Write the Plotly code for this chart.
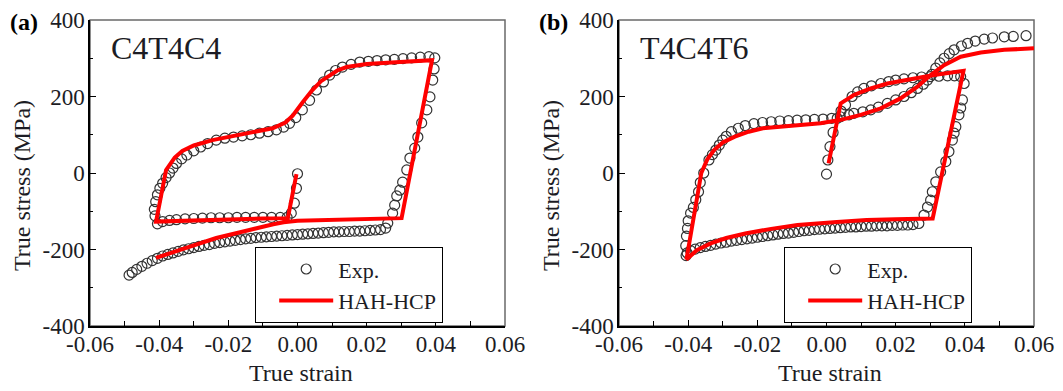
import plotly.graph_objects as go

# ---------------- data (strain, stress in MPa) ----------------
# Panel (a)  C4T4C4
A_EXP = [
    (0.0000, -2), (-0.0003, -40), (-0.0009, -79), (-0.0018, -105), (-0.0030, -116),
    (-0.0050, -116), (-0.0075, -116), (-0.0100, -116), (-0.0125, -116), (-0.0150, -116),
    (-0.0175, -116), (-0.0200, -117), (-0.0225, -117), (-0.0250, -117), (-0.0275, -118),
    (-0.0300, -119), (-0.0325, -120), (-0.0350, -122), (-0.0370, -124), (-0.0390, -127),
    (-0.0405, -133),
    (-0.0412, -112), (-0.0414, -95), (-0.0410, -75), (-0.0405, -57), (-0.0398, -40),
    (-0.0390, -27), (-0.0380, -12), (-0.0370, 0), (-0.0360, 13), (-0.0350, 25),
    (-0.0335, 37), (-0.0320, 47), (-0.0300, 58), (-0.0280, 68), (-0.0260, 77),
    (-0.0235, 86), (-0.0210, 91), (-0.0185, 94), (-0.0160, 97), (-0.0135, 100),
    (-0.0110, 104), (-0.0085, 108), (-0.0061, 113), (-0.0040, 120), (-0.0023, 130),
    (-0.0005, 145), (0.0014, 165), (0.0035, 190), (0.0055, 217), (0.0075, 238),
    (0.0093, 256), (0.0110, 268), (0.0130, 277), (0.0155, 284), (0.0180, 290),
    (0.0205, 292), (0.0230, 294), (0.0255, 296), (0.0280, 297), (0.0305, 299),
    (0.0330, 301), (0.0355, 303), (0.0380, 304), (0.0397, 301),
    (0.0395, 272), (0.0391, 243), (0.0383, 199), (0.0374, 165), (0.0359, 131),
    (0.0348, 94), (0.0339, 65), (0.0325, 39), (0.0316, 8), (0.0304, -24),
    (0.0296, -45), (0.0287, -60), (0.0281, -84), (0.0275, -105), (0.0261, -131),
    (0.0255, -144),
    (0.0240, -148), (0.0225, -149), (0.0210, -150), (0.0195, -151), (0.0180, -152),
    (0.0165, -152), (0.0150, -153), (0.0135, -153), (0.0120, -154), (0.0105, -154),
    (0.0090, -155), (0.0075, -156), (0.0060, -157), (0.0045, -158), (0.0030, -159),
    (0.0015, -160), (0.0000, -161), (-0.0015, -162), (-0.0030, -163), (-0.0045, -164),
    (-0.0060, -165), (-0.0075, -166), (-0.0090, -167), (-0.0105, -168), (-0.0120, -169),
    (-0.0135, -171), (-0.0150, -172), (-0.0165, -174), (-0.0180, -176), (-0.0195, -178),
    (-0.0210, -180), (-0.0225, -182), (-0.0240, -184), (-0.0255, -187), (-0.0270, -189),
    (-0.0285, -192), (-0.0300, -195), (-0.0315, -198), (-0.0330, -201), (-0.0345, -205),
    (-0.0360, -209), (-0.0375, -213), (-0.0390, -217), (-0.0405, -223), (-0.0420, -229),
    (-0.0435, -236), (-0.0450, -244), (-0.0465, -252), (-0.0478, -260), (-0.0487, -267),
]

A_MODEL = [
    (-0.0003, -3), (-0.0028, -118), (-0.0100, -119), (-0.0200, -121), (-0.0300, -123),
    (-0.0409, -127), (-0.0380, 8), (-0.0355, 40), (-0.0333, 58), (-0.0300, 72),
    (-0.0246, 86), (-0.0200, 94), (-0.0139, 104), (-0.0072, 117), (-0.0035, 132),
    (-0.0014, 150), (0.0015, 185), (0.0043, 217), (0.0068, 240), (0.0093, 256),
    (0.0115, 268), (0.0142, 277), (0.0200, 285), (0.0296, 290), (0.0389, 295),
    (0.0301, -118), (0.0200, -120), (0.0100, -122), (0.0000, -125), (-0.0040, -129),
    (-0.0070, -134), (-0.0139, -149), (-0.0235, -170), (-0.0333, -199), (-0.0409, -222),
]

# Panel (b)  T4C4T6
B_EXP = [
    (0.0000, -3), (0.0004, 34), (0.0010, 69), (0.0019, 106), (0.0031, 143),
    (0.0042, 162), (0.0055, 178), (0.0074, 200), (0.0090, 212), (0.0108, 221),
    (0.0130, 228), (0.0157, 234), (0.0180, 239), (0.0200, 243), (0.0224, 246),
    (0.0250, 249), (0.0275, 251), (0.0300, 252), (0.0325, 253), (0.0350, 254),
    (0.0370, 254), (0.0388, 252),
    (0.0398, 234), (0.0393, 191), (0.0388, 170), (0.0383, 152), (0.0374, 121),
    (0.0369, 104), (0.0364, 86), (0.0354, 56), (0.0345, 30), (0.0330, 3),
    (0.0316, -23), (0.0306, -49), (0.0301, -71), (0.0292, -89), (0.0282, -110),
    (0.0267, -132),
    (0.0250, -135), (0.0235, -136), (0.0220, -136), (0.0205, -137), (0.0190, -137),
    (0.0175, -138), (0.0160, -138), (0.0145, -138), (0.0130, -139), (0.0115, -139),
    (0.0100, -140), (0.0085, -141), (0.0070, -141), (0.0055, -142), (0.0040, -143),
    (0.0025, -144), (0.0010, -145), (-0.0005, -146), (-0.0020, -147), (-0.0035, -148),
    (-0.0050, -150), (-0.0065, -151), (-0.0080, -153), (-0.0095, -155), (-0.0110, -157),
    (-0.0125, -158), (-0.0140, -160), (-0.0155, -162), (-0.0170, -164), (-0.0185, -166),
    (-0.0200, -168), (-0.0215, -170), (-0.0230, -172), (-0.0245, -174), (-0.0260, -176),
    (-0.0275, -178), (-0.0290, -181), (-0.0305, -183), (-0.0320, -186), (-0.0335, -189),
    (-0.0350, -192), (-0.0365, -195), (-0.0380, -199), (-0.0393, -203), (-0.0403, -209),
    (-0.0406, -216),
    (-0.0407, -190), (-0.0405, -165), (-0.0402, -145), (-0.0400, -125), (-0.0393, -105),
    (-0.0385, -90), (-0.0378, -70), (-0.0370, -49), (-0.0365, -25), (-0.0355, 0),
    (-0.0340, 34), (-0.0330, 48), (-0.0320, 60), (-0.0310, 73), (-0.0300, 86),
    (-0.0290, 96), (-0.0275, 108), (-0.0255, 117), (-0.0235, 124), (-0.0210, 129),
    (-0.0185, 132), (-0.0160, 134), (-0.0135, 136), (-0.0110, 137), (-0.0085, 138),
    (-0.0060, 139), (-0.0035, 140), (-0.0010, 141), (0.0015, 143), (0.0040, 147),
    (0.0065, 152), (0.0079, 156), (0.0105, 160), (0.0128, 165), (0.0150, 172),
    (0.0176, 182), (0.0200, 191), (0.0224, 200), (0.0245, 210), (0.0263, 221),
    (0.0280, 232), (0.0292, 243), (0.0305, 258), (0.0316, 274), (0.0328, 288),
    (0.0340, 300), (0.0355, 312), (0.0369, 322), (0.0390, 332), (0.0408, 339),
    (0.0430, 345), (0.0456, 350), (0.0480, 353), (0.0514, 356), (0.0540, 357),
    (0.0577, 359),
]

B_MODEL = [
    (0.0006, 25), (0.0041, 182), (0.0079, 204), (0.0128, 221), (0.0176, 234),
    (0.0243, 246), (0.0311, 256), (0.0396, 267), (0.0307, -119), (0.0200, -121),
    (0.0116, -123), (0.0030, -128), (-0.0084, -136), (-0.0160, -146), (-0.0235, -158),
    (-0.0290, -170), (-0.0335, -184), (-0.0375, -202), (-0.0405, -226), (-0.0362, 0),
    (-0.0345, 35), (-0.0325, 60), (-0.0300, 80), (-0.0265, 95), (-0.0225, 108),
    (-0.0184, 117), (-0.0134, 122), (-0.0084, 125), (-0.0017, 130), (0.0041, 139),
    (0.0099, 152), (0.0157, 169), (0.0214, 195), (0.0263, 226), (0.0301, 256),
    (0.0340, 282), (0.0388, 304), (0.0446, 315), (0.0514, 322), (0.0600, 326),
]

X_TICK_VALS = [-0.06, -0.04, -0.02, 0.0, 0.02, 0.04, 0.06]
X_TICK_TEXT = ["-0.06", "-0.04", "-0.02", "0.00", "0.02", "0.04", "0.06"]
X_MINOR_VALS = [-0.05, -0.03, -0.01, 0.01, 0.03, 0.05]
Y_TICK_VALS = [-400, -200, 0, 200, 400]
Y_TICK_TEXT = ["-400", "-200", "0", "200", "400"]
Y_MINOR_VALS = [-300, -100, 100, 300]

PANEL_LABELS = ["(a)", "(b)"]
PANEL_TITLES = ["C4T4C4", "T4C4T6"]
SERIES_NAMES = ["Exp.", "HAH-HCP"]
X_TITLE = "True strain"
Y_TITLE = "True stress (MPa)"

# ---------------- layout helpers ----------------
PAGE_OFFSET = 8  # default body margin of the html page
W, H = 1063 - PAGE_OFFSET, 391 - PAGE_OFFSET
FONT = "Liberation Serif"
TXT = "#1c1c24"


def px_x(p):
    return (p - PAGE_OFFSET) / W


def px_y(p):
    return 1 - (p - PAGE_OFFSET) / H


panels = [
    dict(x0=90, x1=505, exp=A_EXP, model=A_MODEL, xa="x", ya="y"),
    dict(x0=619, x1=1034, exp=B_EXP, model=B_MODEL, xa="x2", ya="y2"),
]
TOP, BOT = 20, 326

fig = go.Figure()
for i, p in enumerate(panels):
    ex, ey = zip(*p["exp"])
    mx, my = zip(*p["model"])
    fig.add_trace(go.Scatter(
        x=ex, y=ey, mode="markers", name=SERIES_NAMES[0],
        xaxis=p["xa"], yaxis=p["ya"], legend="legend" if i == 0 else "legend2",
        marker=dict(symbol="circle-open", size=10, color="#333333", line=dict(width=1.2)),
    ))
    fig.add_trace(go.Scatter(
        x=mx, y=my, mode="lines", name=SERIES_NAMES[1],
        xaxis=p["xa"], yaxis=p["ya"], legend="legend" if i == 0 else "legend2",
        line=dict(color="#ff0000", width=4),
    ))

axis_common = dict(
    showline=True, linecolor="black", linewidth=1.5, mirror=False,
    ticks="inside", ticklen=6, tickwidth=1.2, tickcolor="black",
    showgrid=False, zeroline=False, automargin=False,
    tickfont=dict(family=FONT, size=23, color=TXT),
    tickmode="array",
)

layout = dict(
    width=W, height=H, margin=dict(l=0, r=0, t=0, b=0, autoexpand=False),
    paper_bgcolor="white", plot_bgcolor="white",
    font=dict(family=FONT, color=TXT),
    showlegend=True,
)

for i, p in enumerate(panels):
    sfx = "" if i == 0 else "2"
    layout["xaxis" + sfx] = dict(
        axis_common, domain=[px_x(p["x0"]), px_x(p["x1"])], range=[-0.06, 0.06],
        anchor="y" + sfx, tickvals=X_TICK_VALS, ticktext=X_TICK_TEXT,
        minor=dict(tickmode="array", tickvals=X_MINOR_VALS, ticks="inside",
                   ticklen=5, tickwidth=1.2, tickcolor="black", showgrid=False),
        ticklabelstandoff=-3,
    )
    layout["yaxis" + sfx] = dict(
        axis_common, domain=[px_y(BOT), px_y(TOP)], range=[-400, 400],
        anchor="x" + sfx, tickvals=Y_TICK_VALS, ticktext=Y_TICK_TEXT,
        minor=dict(tickmode="array", tickvals=Y_MINOR_VALS, ticks="inside",
                   ticklen=3, tickwidth=1.2, tickcolor="black", showgrid=False),
        ticklabelstandoff=-1,
    )
    leg = dict(
        x=px_x(p["x0"] + 165), y=px_y(247), xanchor="left", yanchor="top",
        bgcolor="white", bordercolor="black", borderwidth=1.2,
        font=dict(family=FONT, size=22, color=TXT),
        itemwidth=54, indentation=18, tracegroupgap=0,
    )
    layout["legend" if i == 0 else "legend2"] = leg

fig.update_layout(**layout)

# frame (top/right in grey)
for i, p in enumerate(panels):
    fig.add_shape(type="rect", xref="paper", yref="paper",
                  x0=px_x(p["x0"]), x1=px_x(p["x1"]), y0=px_y(BOT), y1=px_y(TOP),
                  line=dict(color="#6a6a6a", width=1.5), layer="below")

annos = []
for i, p in enumerate(panels):
    cx = (p["x0"] + p["x1"]) / 2
    annos.append(dict(text=X_TITLE, x=px_x(cx + 3), y=px_y(373), xref="paper", yref="paper",
                      showarrow=False, font=dict(family=FONT, size=24, color=TXT),
                      xanchor="center", yanchor="middle"))
    annos.append(dict(text=Y_TITLE, x=px_x(p["x0"] - 68), y=px_y(186), xref="paper", yref="paper",
                      showarrow=False, textangle=-90, font=dict(family=FONT, size=24, color=TXT),
                      xanchor="center", yanchor="middle"))
    annos.append(dict(text=PANEL_TITLES[i], x=px_x(p["x0"] + 19), y=px_y(48), xref="paper", yref="paper",
                      showarrow=False, font=dict(family=FONT, size=32, color=TXT),
                      xanchor="left", yanchor="middle"))
    annos.append(dict(text="<b>" + PANEL_LABELS[i] + "</b>", x=px_x(p["x0"] - 81), y=px_y(8),
                      xref="paper", yref="paper", showarrow=False, borderpad=0,
                      font=dict(family=FONT, size=24, color="black"),
                      xanchor="left", yanchor="top"))
fig.update_layout(annotations=annos)

fig.write_html("out.html")
